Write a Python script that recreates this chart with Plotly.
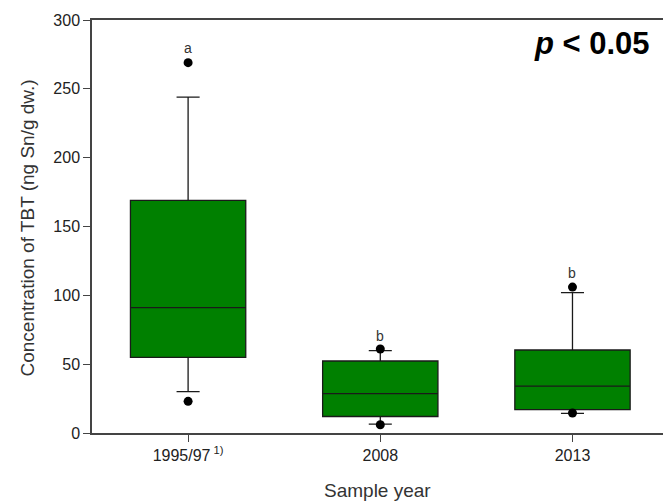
import plotly.graph_objects as go

# Data
categories = ["1995/97<sup> 1)</sup>", "2008", "2013"]
positions = [0, 1, 2]
q1 = [55, 12, 17]
median = [91, 28.6, 34]
q3 = [169, 52.3, 60.3]
lower_whisker = [30, 6.5, 14.3]
upper_whisker = [244, 59.8, 102]
outlier_x = [0, 0, 1, 1, 2, 2]
outlier_y = [269, 23, 61, 6, 106, 14.5]
letters = ["a", "b", "b"]
letter_y = [280, 70.5, 116]

fig = go.Figure()
fig.add_trace(go.Box(
    x=positions, q1=q1, median=median, q3=q3,
    lowerfence=lower_whisker, upperfence=upper_whisker,
    width=0.6, whiskerwidth=0.2, boxpoints=False,
    fillcolor="#008000", line=dict(color="#1a1a1a", width=1.3),
    showlegend=False, hoverinfo="skip"
))
fig.add_trace(go.Scatter(
    x=outlier_x, y=outlier_y, mode="markers",
    marker=dict(color="black", size=9), showlegend=False
))

for xp, lt, ly in zip(positions, letters, letter_y):
    fig.add_annotation(x=xp, y=ly, text=lt, showarrow=False,
                       font=dict(family="Liberation Sans, Arial", size=14, color="#333"))

fig.add_annotation(xref="paper", yref="paper", x=0, y=0.5, xshift=-65, yshift=-2,
                   text="Concentration of TBT (ng Sn/g dw.)", textangle=-90,
                   showarrow=False, xanchor="center", yanchor="middle",
                   font=dict(family="Liberation Sans, Arial", size=19, color="#333"))
fig.add_annotation(xref="paper", yref="paper", x=0.5, y=0, yshift=-57,
                   text="Sample year", showarrow=False, xanchor="center", yanchor="middle",
                   font=dict(family="Liberation Sans, Arial", size=19, color="#333"))
fig.add_annotation(xref="paper", yref="paper", x=1, y=1, xshift=-11, yshift=-23,
                   text="<b><i>p</i> &lt; 0.05</b>", showarrow=False,
                   xanchor="right", yanchor="middle",
                   font=dict(family="Liberation Sans, Arial", size=31, color="black"))

fig.update_layout(
    width=663, height=502,
    margin=dict(l=92, r=0, t=20, b=69),
    paper_bgcolor="white", plot_bgcolor="white",
    font=dict(family="Liberation Sans, Arial", size=16, color="#222"),
    xaxis=dict(range=[-0.5, 2.471], tickvals=positions, ticktext=categories,
               showline=True, linecolor="#444", linewidth=1.5, mirror=True,
               ticks="outside", ticklen=7, tickcolor="#444", showgrid=False,
               zeroline=False, tickfont=dict(size=16)),
    yaxis=dict(range=[0, 300], dtick=50, showline=True, linecolor="#444", linewidth=1.5,
               ticks="outside", ticklen=7, tickcolor="#444", showgrid=False,
               zeroline=False, tickfont=dict(size=16)),
)

fig.write_html("out.html")
